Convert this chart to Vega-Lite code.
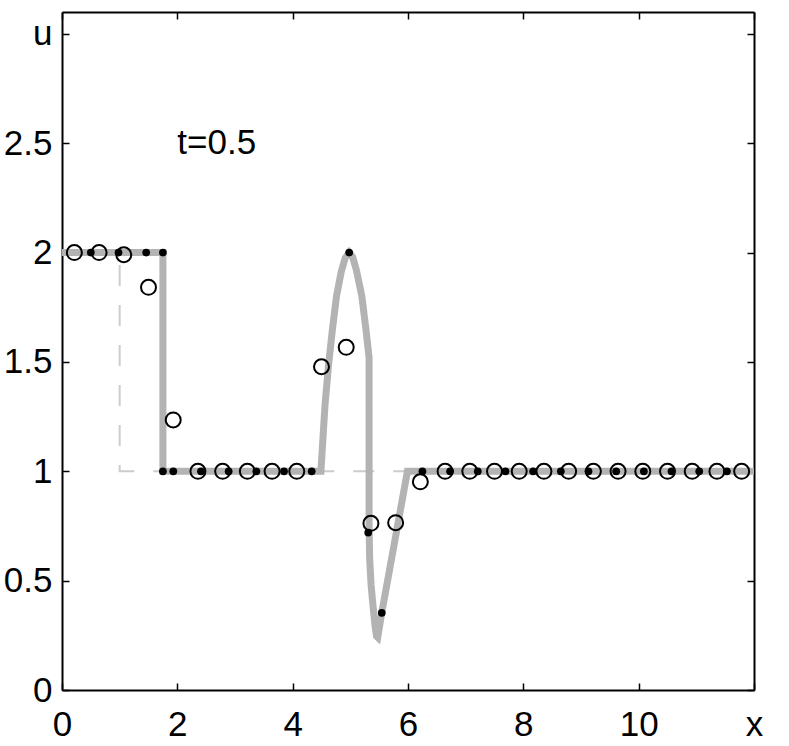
{
  "$schema": "https://vega.github.io/schema/vega-lite/v6.json",
  "width": 692,
  "height": 678,
  "autosize": "none",
  "padding": {"left": 62, "top": 12, "right": 35, "bottom": 56},
  "background": "white",
  "config": {
    "view": {"stroke": null},
    "font": "Liberation Sans",
    "axis": {
      "grid": false,
      "domainColor": "black",
      "domainWidth": 2,
      "tickColor": "black",
      "tickWidth": 1.5,
      "tickSize": -7,
      "labelFont": "Liberation Sans",
      "labelFontSize": 35,
      "labelColor": "black",
      "title": null
    }
  },
  "datasets": {
    "init": [
      {"x": 0, "u": 2}, {"x": 1, "u": 2}, {"x": 1, "u": 1}, {"x": 12, "u": 1}
    ],
    "exact": [
      {"x": 0, "u": 2}, {"x": 1.75, "u": 2}, {"x": 1.75, "u": 1}, {"x": 4.49, "u": 1},
      {"x": 4.56, "u": 1.3}, {"x": 4.62, "u": 1.48}, {"x": 4.69, "u": 1.65}, {"x": 4.76, "u": 1.8},
      {"x": 4.84, "u": 1.91}, {"x": 4.91, "u": 1.975}, {"x": 4.98, "u": 2.0}, {"x": 5.04, "u": 1.98},
      {"x": 5.105, "u": 1.92}, {"x": 5.2, "u": 1.8}, {"x": 5.27, "u": 1.65}, {"x": 5.325, "u": 1.52},
      {"x": 5.325, "u": 0.75}, {"x": 5.335, "u": 0.6}, {"x": 5.36, "u": 0.48}, {"x": 5.395, "u": 0.38},
      {"x": 5.43, "u": 0.29}, {"x": 5.455, "u": 0.245}, {"x": 5.475, "u": 0.24}, {"x": 5.545, "u": 0.353},
      {"x": 5.99, "u": 1.0}, {"x": 12, "u": 1}
    ],
    "circles": [
      {"x": 0.2143, "u": 2}, {"x": 0.6429, "u": 2}, {"x": 1.0714, "u": 1.99}, {"x": 1.5, "u": 1.841},
      {"x": 1.9286, "u": 1.235}, {"x": 2.3571, "u": 1}, {"x": 2.7857, "u": 1}, {"x": 3.2143, "u": 1},
      {"x": 3.6429, "u": 1}, {"x": 4.0714, "u": 1}, {"x": 4.5, "u": 1.478}, {"x": 4.9286, "u": 1.567},
      {"x": 5.3571, "u": 0.762}, {"x": 5.7857, "u": 0.765}, {"x": 6.2143, "u": 0.952}, {"x": 6.6429, "u": 1},
      {"x": 7.0714, "u": 1}, {"x": 7.5, "u": 1}, {"x": 7.9286, "u": 1}, {"x": 8.3571, "u": 1},
      {"x": 8.7857, "u": 1}, {"x": 9.2143, "u": 1}, {"x": 9.6429, "u": 1}, {"x": 10.0714, "u": 1},
      {"x": 10.5, "u": 1}, {"x": 10.9286, "u": 1}, {"x": 11.3571, "u": 1}, {"x": 11.7857, "u": 1}
    ],
    "dots": [
      {"x": 0.5, "u": 2}, {"x": 0.98, "u": 2}, {"x": 1.46, "u": 2}, {"x": 1.75, "u": 2},
      {"x": 1.75, "u": 1}, {"x": 1.93, "u": 1}, {"x": 2.41, "u": 1}, {"x": 2.89, "u": 1},
      {"x": 3.37, "u": 1}, {"x": 3.85, "u": 1}, {"x": 4.33, "u": 1}, {"x": 4.98, "u": 2.0},
      {"x": 5.31, "u": 0.72}, {"x": 5.545, "u": 0.353}, {"x": 6.25, "u": 1}, {"x": 6.73, "u": 1},
      {"x": 7.21, "u": 1}, {"x": 7.69, "u": 1}, {"x": 8.17, "u": 1}, {"x": 8.65, "u": 1},
      {"x": 9.13, "u": 1}, {"x": 9.61, "u": 1}, {"x": 10.09, "u": 1}, {"x": 10.57, "u": 1},
      {"x": 11.05, "u": 1}, {"x": 11.53, "u": 1}
    ],
    "label": [{"x": 2, "u": 2.5, "text": "t=0.5"}]
  },
  "layer": [
    {
      "data": {"name": "init"},
      "mark": {"type": "line", "color": "#cccccc", "strokeWidth": 2, "strokeDash": [21, 19], "strokeDashOffset": 10},
      "encoding": {
        "x": {"field": "x", "type": "quantitative",
              "scale": {"domain": [0, 12], "nice": false, "zero": false},
              "axis": {"orient": "bottom", "values": [0, 2, 4, 6, 8, 10, 12], "labelPadding": 24,
                       "labelExpr": "datum.value == 12 ? 'x' : datum.label", "labelFlush": false}},
        "y": {"field": "u", "type": "quantitative",
              "scale": {"domain": [0, 3.1], "nice": false, "zero": false},
              "axis": {"orient": "left", "values": [0, 0.5, 1, 1.5, 2, 2.5, 3], "labelPadding": 17, "format": "~g",
                       "labelExpr": "datum.value == 3 ? 'u' : datum.label", "labelFlush": false}},
        "order": {"value": null}
      }
    },
    {
      "data": {"name": "exact"},
      "mark": {"type": "line", "color": "#b3b3b3", "strokeWidth": 7, "strokeJoin": "miter", "strokeCap": "butt"},
      "encoding": {
        "x": {"field": "x", "type": "quantitative",
              "axis": {"orient": "top", "values": [0, 2, 4, 6, 8, 10, 12], "labels": false}},
        "y": {"field": "u", "type": "quantitative",
              "axis": {"orient": "right", "values": [0, 0.5, 1, 1.5, 2, 2.5, 3], "labels": false}},
        "order": {"value": null}
      }
    },
    {
      "data": {"name": "circles"},
      "mark": {"type": "point", "shape": "circle", "filled": false, "stroke": "black", "strokeWidth": 2, "size": 225, "opacity": 1},
      "encoding": {
        "x": {"field": "x", "type": "quantitative", "axis": null},
        "y": {"field": "u", "type": "quantitative", "axis": null}
      }
    },
    {
      "data": {"name": "dots"},
      "mark": {"type": "point", "shape": "circle", "filled": true, "color": "black", "size": 60, "opacity": 1},
      "encoding": {
        "x": {"field": "x", "type": "quantitative", "axis": null},
        "y": {"field": "u", "type": "quantitative", "axis": null}
      }
    },
    {
      "data": {"name": "label"},
      "mark": {"type": "text", "align": "left", "baseline": "middle", "font": "Liberation Sans", "fontSize": 35, "color": "black"},
      "encoding": {
        "x": {"field": "x", "type": "quantitative", "axis": null},
        "y": {"field": "u", "type": "quantitative", "axis": null},
        "text": {"field": "text"}
      }
    }
  ],
  "resolve": {"axis": {"x": "independent", "y": "independent"}}
}
